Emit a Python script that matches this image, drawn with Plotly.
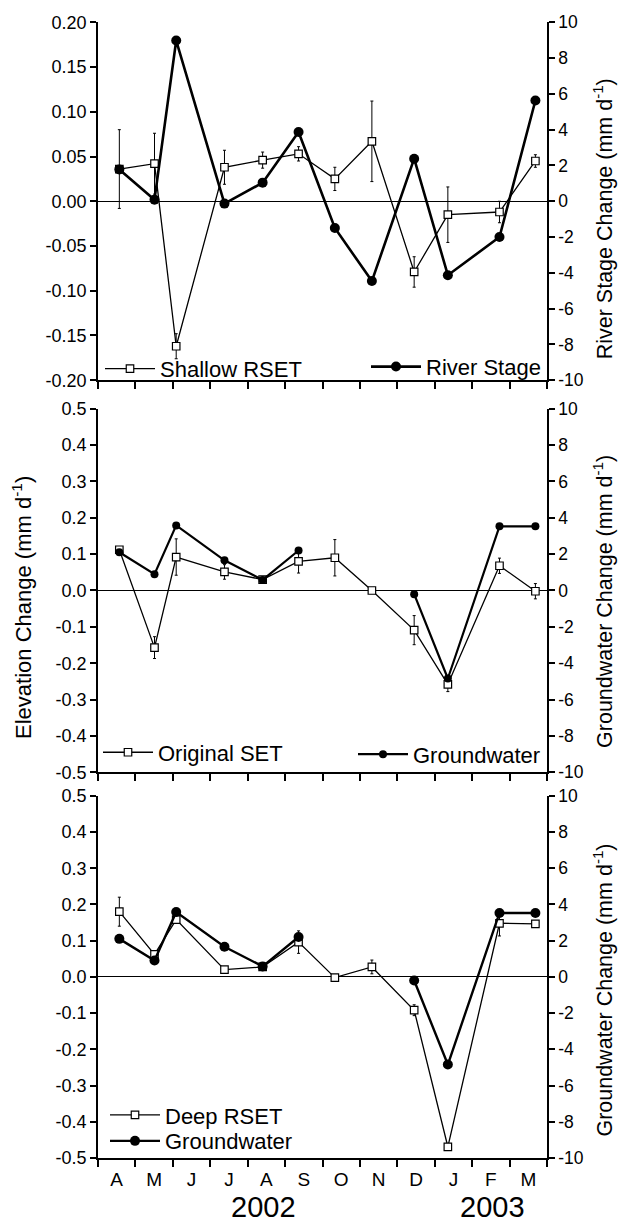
import plotly.graph_objects as go

# ---------------- data ----------------
month_labels = ["A", "M", "J", "J", "A", "S", "O", "N", "D", "J", "F", "M"]
month_bounds = list(range(13))            # month boundaries (Apr 2002 .. Apr 2003)
label_pos = [i + 0.5 for i in range(12)]  # mid-month label positions
year_labels = ["2002", "2003"]
year_pos = [4.43, 10.54]

# sampling dates, in months after 1 April 2002
sample_month = [0.57, 1.51, 2.09, 3.38, 4.40, 5.36, 6.33, 7.32, 8.45, 9.35, 10.73, 11.69]

shallow_rset = [0.036, 0.042, -0.162, 0.038, 0.046, 0.053, 0.025, 0.067, -0.079, -0.015, -0.012, 0.045]
shallow_err = [0.044, 0.034, 0.014, 0.019, 0.009, 0.008, 0.013, 0.045, 0.017, 0.031, 0.012, 0.007]
river_stage = [1.78, 0.09, 8.98, -0.13, 1.04, 3.87, -1.49, -4.46, 2.38, -4.13, -2.00, 5.63]

original_set = [0.112, -0.157, 0.092, 0.051, 0.030, 0.080, 0.090, 0.000, -0.109, -0.258, 0.068, -0.002]
original_err = [0.005, 0.030, 0.050, 0.020, 0.004, 0.032, 0.050, 0.003, 0.040, 0.020, 0.021, 0.021]

deep_rset = [0.180, 0.062, 0.158, 0.020, 0.0275, 0.096, -0.002, 0.0275, -0.092, -0.469, 0.148, 0.1465]
deep_err = [0.040, 0.005, 0.005, 0.004, 0.004, 0.031, 0.003, 0.019, 0.015, 0.004, 0.035, 0.004]

groundwater = [2.10, 0.90, 3.58, 1.66, 0.58, 2.20, None, None, -0.20, -4.84, 3.53, 3.53]

top_left_ticks = [0.20, 0.15, 0.10, 0.05, 0.00, -0.05, -0.10, -0.15, -0.20]
top_left_text = ["0.20", "0.15", "0.10", "0.05", "0.00", "-0.05", "-0.10", "-0.15", "-0.20"]
mid_left_ticks = [0.5, 0.4, 0.3, 0.2, 0.1, 0.0, -0.1, -0.2, -0.3, -0.4, -0.5]
mid_left_text = ["0.5", "0.4", "0.3", "0.2", "0.1", "0.0", "-0.1", "-0.2", "-0.3", "-0.4", "-0.5"]
right_ticks = [10, 8, 6, 4, 2, 0, -2, -4, -6, -8, -10]
right_text = ["10", "8", "6", "4", "2", "0", "-2", "-4", "-6", "-8", "-10"]

# ---------------- figure ----------------
FONT = "Liberation Sans, Arial, sans-serif"
W, H = 619, 1222
ML, MR, MT, MB = 98, 72, 18, 64
PH = H - MT - MB  # plotting height in px


def py(px):  # pixel y -> paper fraction
    return (H - MB - px) / PH


def pxx(px):  # pixel x -> paper fraction
    return (px - ML) / (W - ML - MR)


fig = go.Figure()

sq_marker = dict(symbol="square", size=7.5, color="white", line=dict(color="black", width=1.2))


def rset_trace(y, err, name, xa, ya, leg):
    return go.Scatter(
        x=sample_month, y=y, name=name, mode="lines+markers",
        line=dict(color="black", width=1.3), marker=sq_marker,
        error_y=dict(type="data", array=err, color="black", thickness=1, width=1.5),
        xaxis=xa, yaxis=ya, legend=leg, showlegend=True,
    )


def dot_trace(y, name, xa, ya, leg, size, lw):
    return go.Scatter(
        x=sample_month, y=y, name=name, mode="lines+markers",
        line=dict(color="black", width=lw), connectgaps=False,
        marker=dict(symbol="circle", size=size, color="black"),
        xaxis=xa, yaxis=ya, legend=leg, showlegend=True,
    )


fig.add_trace(rset_trace(shallow_rset, shallow_err, "Shallow RSET", "x", "y", "legend"))
fig.add_trace(dot_trace(river_stage, "River Stage", "x", "y2", "legend2", 10, 2.6))
fig.add_trace(rset_trace(original_set, original_err, "Original SET", "x2", "y3", "legend3"))
fig.add_trace(dot_trace(groundwater, "Groundwater", "x2", "y4", "legend4", 8, 2.2))
fig.add_trace(rset_trace(deep_rset, deep_err, "Deep RSET", "x3", "y5", "legend5"))
fig.add_trace(dot_trace(groundwater, "Groundwater", "x3", "y6", "legend6", 10, 2.4))

dom_top = [py(377.5), py(18.3)]
dom_mid = [py(771), py(406)]
dom_bot = [py(1158), py(794.5)]

axis_common = dict(showline=True, linecolor="black", linewidth=1.6, showgrid=False,
                   ticks="outside", tickcolor="black", tickwidth=1.5)


def xaxis(anchor, labels):
    d = dict(axis_common)
    d.update(domain=[0, 1], range=[0, 12], anchor=anchor, zeroline=False,
             tickmode="array", tickvals=label_pos, ticktext=month_labels,
             showticklabels=labels,
             tickfont=dict(size=19, family=FONT, color="black"),
             ticklen=0, ticklabelstandoff=3,
             minor=dict(tickmode="array", tickvals=month_bounds, ticks="outside",
                        ticklen=7, tickwidth=1.5, tickcolor="black", showgrid=False))
    return d


def yleft(domain, anchor, rng, tv, tt):
    d = dict(axis_common)
    d.update(domain=domain, anchor=anchor, range=rng, tickmode="array", tickvals=tv,
             ticktext=tt, ticklen=6, zeroline=True, zerolinecolor="black",
             zerolinewidth=1.2, side="left",
             tickfont=dict(size=18, family=FONT, color="black"))
    return d


def yright(domain, anchor, over):
    d = dict(axis_common)
    d.update(domain=domain, anchor=anchor, overlaying=over, side="right", range=[-10, 10],
             tickmode="array", tickvals=right_ticks, ticktext=right_text, ticklen=6,
             zeroline=False, tickfont=dict(size=17.5, family=FONT, color="black"))
    return d


fig.update_layout(
    width=W, height=H, autosize=False,
    margin=dict(l=ML, r=MR, t=MT, b=MB, pad=0),
    paper_bgcolor="white", plot_bgcolor="white",
    font=dict(family=FONT, color="black", size=17),
    xaxis=xaxis("y", False),
    xaxis2=xaxis("y3", False),
    xaxis3=xaxis("y5", True),
    yaxis=yleft(dom_top, "x", [-0.2, 0.2], top_left_ticks, top_left_text),
    yaxis2=yright(dom_top, "x", "y"),
    yaxis3=yleft(dom_mid, "x2", [-0.5, 0.5], mid_left_ticks, mid_left_text),
    yaxis4=yright(dom_mid, "x2", "y3"),
    yaxis5=yleft(dom_bot, "x3", [-0.5, 0.5], mid_left_ticks, mid_left_text),
    yaxis6=yright(dom_bot, "x3", "y5"),
)

leg_common = dict(bgcolor="rgba(0,0,0,0)", borderwidth=0, font=dict(size=22, family=FONT, color="black"),
                  itemwidth=50, yanchor="middle", tracegroupgap=0)
fig.update_layout(
    legend=dict(leg_common, x=pxx(100), xanchor="left", y=py(366)),
    legend2=dict(leg_common, x=pxx(546), xanchor="right", y=py(364)),
    legend3=dict(leg_common, x=pxx(98), xanchor="left", y=py(751)),
    legend4=dict(leg_common, x=pxx(546), xanchor="right", y=py(753)),
    legend5=dict(leg_common, x=pxx(105), xanchor="left", y=py(1115)),
    legend6=dict(leg_common, x=pxx(105), xanchor="left", y=py(1141)),
)

ann = []
ann.append(dict(text="Elevation Change (mm d<sup>-1</sup>)", textangle=-90, xref="paper", yref="paper",
                x=pxx(22), y=py(606), xanchor="center", yanchor="middle", showarrow=False,
                font=dict(size=22, family=FONT)))
for title, ypx in [("River Stage Change (mm d<sup>-1</sup>)", 216),
                   ("Groundwater Change (mm d<sup>-1</sup>)", 600),
                   ("Groundwater Change (mm d<sup>-1</sup>)", 990)]:
    ann.append(dict(text=title, textangle=-90, xref="paper", yref="paper",
                    x=pxx(603), y=py(ypx), xanchor="center", yanchor="middle", showarrow=False,
                    font=dict(size=21.5, family=FONT)))
for lab, xp in zip(year_labels, year_pos):
    ann.append(dict(text=lab, xref="x3", yref="paper", x=xp, y=py(1207), xanchor="center",
                    yanchor="middle", showarrow=False, font=dict(size=29, family=FONT)))
fig.update_layout(annotations=ann)

fig.write_html("out.html")
